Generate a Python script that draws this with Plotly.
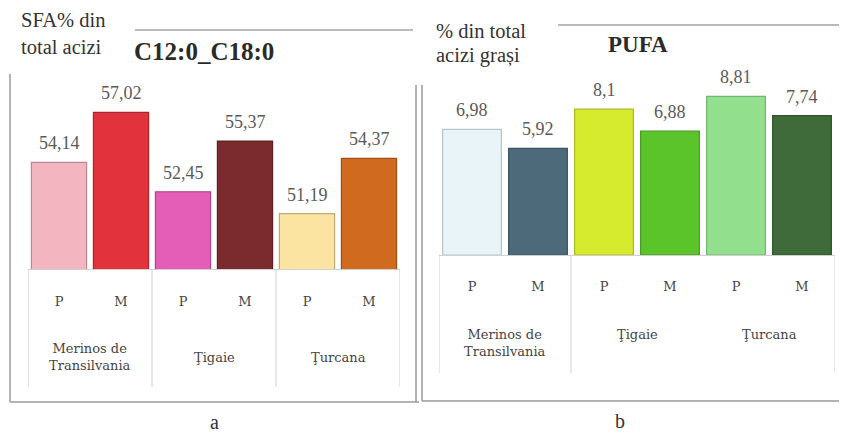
import plotly.graph_objects as go

# The page body adds an 8px margin; the figure is sized and mapped to compensate.
OFF = 8
W, H = 847 - OFF, 433 - OFF

# ---- data ----
groups = ["Merinos de<br>Transilvania", "Ţigaie", "Ţurcana"]
sexes = ["P", "M", "P", "M", "P", "M"]
sfa_values = [54.14, 57.02, 52.45, 55.37, 51.19, 54.37]
pufa_values = [6.98, 5.92, 8.1, 6.88, 8.81, 7.74]
sfa_colors = ["#F3B6C0", "#E2323C", "#E45DB6", "#7B2B2E", "#FBE4A2", "#CF6A1E"]
pufa_colors = ["#E9F4F8", "#4D6A7A", "#D6EA2E", "#5BC42A", "#92E08E", "#3F6A39"]
sfa_range = [48, 59]
pufa_range = [0, 10]


def px(x):
    return (x - OFF) / W


def py(y):
    return 1 - (y - OFF) / H


def fmt(v):
    return str(v).replace(".", ",")


def darker(hexc, f=0.75):
    h = hexc.lstrip("#")
    r, g, b = (int(h[i:i + 2], 16) for i in (0, 2, 4))
    return "rgb(%d,%d,%d)" % (r * f, g * f, b * f)


xs = list(range(len(sexes)))
SERIF = "Liberation Serif"
WIDE = "DejaVu Serif"

fig = go.Figure()
fig.add_trace(go.Bar(
    x=xs, y=sfa_values, xaxis="x", yaxis="y",
    marker=dict(color=sfa_colors, line=dict(color=[darker(c) for c in sfa_colors], width=1.2)),
    showlegend=False, hoverinfo="y",
))
fig.add_trace(go.Bar(
    x=xs, y=pufa_values, xaxis="x2", yaxis="y2",
    marker=dict(color=pufa_colors, line=dict(color=[darker(c, 0.8) for c in pufa_colors], width=1.2)),
    showlegend=False, hoverinfo="y",
))

tickfont = dict(family=WIDE, size=13, color="#444444")
fig.update_layout(
    width=W, height=H,
    margin=dict(l=0, r=0, t=0, b=0),
    paper_bgcolor="white", plot_bgcolor="white",
    bargap=0.11,
    xaxis=dict(domain=[px(28), px(400)], range=[-0.5, 5.5], tickvals=xs, ticktext=sexes,
               tickfont=tickfont, ticks="", ticklabelstandoff=20, showgrid=False,
               zeroline=False, showline=True, linecolor="#d0d0d0", linewidth=1),
    yaxis=dict(domain=[py(269), py(78)], range=sfa_range, visible=False),
    xaxis2=dict(domain=[px(439), px(835)], range=[-0.5, 5.5], tickvals=xs, ticktext=sexes,
                tickfont=tickfont, ticks="", ticklabelstandoff=19, showgrid=False,
                zeroline=False, showline=True, linecolor="#d0d0d0", linewidth=1, anchor="y2"),
    yaxis2=dict(domain=[py(255), py(75)], range=pufa_range, visible=False, anchor="x2"),
)

shapes = []
frame = dict(color="#9a9a9a", width=1.5)
shapes += [
    dict(type="line", xref="paper", yref="paper", x0=px(10), x1=px(10), y0=py(74), y1=py(402), line=frame),
    dict(type="line", xref="paper", yref="paper", x0=px(10), x1=px(419), y0=py(402), y1=py(402), line=frame),
    dict(type="line", xref="paper", yref="paper", x0=px(416), x1=px(416), y0=py(85), y1=py(402), line=frame),
    dict(type="line", xref="paper", yref="paper", x0=px(135), x1=px(413), y0=py(30), y1=py(30),
         line=dict(color="#777777", width=1.2)),
    dict(type="line", xref="paper", yref="paper", x0=px(422), x1=px(422), y0=py(85), y1=py(401), line=frame),
    dict(type="line", xref="paper", yref="paper", x0=px(422), x1=px(847), y0=py(401), y1=py(401), line=frame),
    dict(type="line", xref="paper", yref="paper", x0=px(558), x1=px(847), y0=py(25), y1=py(25),
         line=dict(color="#777777", width=1.2)),
]
sep = dict(color="#d0d0d0", width=1)
for xv in [-0.5, 1.5, 3.5, 5.5]:
    shapes.append(dict(type="line", xref="x", yref="paper", x0=xv, x1=xv, y0=py(269), y1=py(387), line=sep))
for xv in [-0.5, 1.5, 5.5]:
    shapes.append(dict(type="line", xref="x2", yref="paper", x0=xv, x1=xv, y0=py(255), y1=py(373), line=sep))
fig.update_layout(shapes=shapes)

ann = []
vfont = dict(family=SERIF, size=18, color="#5a5a5a")
for xv, v in zip(xs, sfa_values):
    ann.append(dict(x=xv, y=v, xref="x", yref="y", text=fmt(v), showarrow=False,
                    yanchor="bottom", yshift=7, font=vfont))
for xv, v in zip(xs, pufa_values):
    ann.append(dict(x=xv, y=v, xref="x2", yref="y2", text=fmt(v), showarrow=False,
                    yanchor="bottom", yshift=7, font=vfont))

gfont = dict(family=WIDE, size=13, color="#444444")
for gi, g in enumerate(groups):
    xc = (xs[2 * gi] + xs[2 * gi + 1]) / 2
    ann.append(dict(x=xc, y=py(357), xref="x", yref="paper", text=g, showarrow=False,
                    font=gfont, yanchor="middle"))
    ann.append(dict(x=xc, y=py(343 if gi == 0 else 334), xref="x2", yref="paper", text=g,
                    showarrow=False, font=gfont, yanchor="middle"))

tfont_a = dict(family=SERIF, size=20.5, color="#333333")
tfont_b = dict(family=SERIF, size=20.5, color="#333333")
ann += [
    dict(x=px(19), y=py(20), xref="paper", yref="paper", text="SFA% din", showarrow=False,
         xanchor="left", yanchor="middle", font=tfont_a),
    dict(x=px(19), y=py(47), xref="paper", yref="paper", text="total acizi", showarrow=False,
         xanchor="left", yanchor="middle", font=tfont_a),
    dict(x=px(132), y=py(52), xref="paper", yref="paper", text="<b>C12:0_C18:0</b>", showarrow=False,
         xanchor="left", yanchor="middle", font=dict(family=SERIF, size=25, color="#2a2a2a")),
    dict(x=px(434), y=py(31), xref="paper", yref="paper", text="% din total", showarrow=False,
         xanchor="left", yanchor="middle", font=tfont_b),
    dict(x=px(434), y=py(56), xref="paper", yref="paper", text="acizi grași", showarrow=False,
         xanchor="left", yanchor="middle", font=tfont_b),
    dict(x=px(606), y=py(45), xref="paper", yref="paper", text="<b>PUFA</b>", showarrow=False,
         xanchor="left", yanchor="middle", font=dict(family=SERIF, size=23, color="#2a2a2a")),
    dict(x=px(208), y=py(422), xref="paper", yref="paper", text="a", showarrow=False,
         yanchor="middle", font=dict(family=SERIF, size=20, color="#333333")),
    dict(x=px(627), y=py(421), xref="paper", yref="paper", text="b", showarrow=False,
         yanchor="middle", font=dict(family=SERIF, size=20, color="#333333")),
]
fig.update_layout(annotations=ann)

fig.write_html("out.html")
